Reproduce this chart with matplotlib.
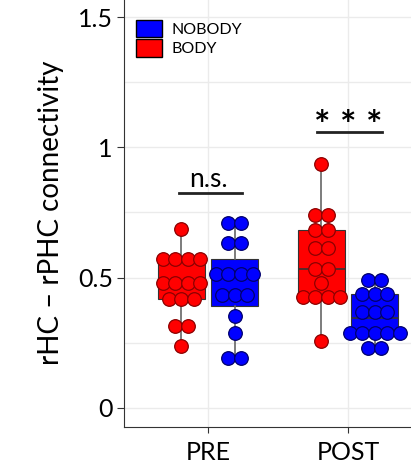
import numpy as np
import matplotlib
matplotlib.use('Agg')
import matplotlib.pyplot as plt
from matplotlib.patches import Patch

plt.rcParams['font.family'] = ['Lato', 'DejaVu Sans']

groups = ["PRE", "POST"]
conditions = ["BODY", "NOBODY"]
colors = {"BODY": "#FF0000", "NOBODY": "#0000FF"}
edges = {"BODY": "#8B0000", "NOBODY": "#00006B"}

pre_body = [0.688, 0.570, 0.570, 0.570, 0.570, 0.477, 0.477, 0.477, 0.477,
            0.419, 0.419, 0.419, 0.313, 0.313, 0.236]
pre_nobody = [0.710, 0.710, 0.631, 0.631, 0.512, 0.512, 0.512, 0.512,
              0.432, 0.432, 0.432, 0.351, 0.285, 0.191, 0.191]
post_body = [0.935, 0.740, 0.740, 0.682, 0.682, 0.614, 0.614, 0.531, 0.531,
             0.478, 0.425, 0.425, 0.425, 0.425, 0.255]
post_nobody = [0.490, 0.490, 0.438, 0.438, 0.438, 0.390, 0.368, 0.345,
               0.287, 0.287, 0.287, 0.287, 0.287, 0.230, 0.230]

data = {("PRE", "BODY"): pre_body, ("PRE", "NOBODY"): pre_nobody,
        ("POST", "BODY"): post_body, ("POST", "NOBODY"): post_nobody}

dodge = {"BODY": -0.19, "NOBODY": 0.19}
box_w = 0.34
binwidth = 0.05
dot_dx = 0.089


def dot_bins(vals, bw):
    # greedy dot-density binning, like ggplot's geom_dotplot
    v = sorted(vals)
    out = []
    i = 0
    while i < len(v):
        j = i
        while j < len(v) and v[j] < v[i] + bw:
            j += 1
        out.append(((v[i] + v[j - 1]) / 2, j - i))
        i = j
    return out


fig = plt.figure(figsize=(4.11, 4.65), dpi=100)
ax = fig.add_axes([124 / 411, 38 / 465, 308 / 411, 429 / 465])

for gi, g in enumerate(groups):
    for c in conditions:
        vals = data[(g, c)]
        x = gi + 1 + dodge[c]
        ax.boxplot([vals], positions=[x], widths=box_w, patch_artist=True,
                   showfliers=False, showcaps=False,
                   boxprops=dict(facecolor=colors[c], edgecolor="#333333", linewidth=0.8),
                   medianprops=dict(color="#333333", linewidth=1.2),
                   whiskerprops=dict(color="#666666", linewidth=1.2),
                   zorder=2)
        for center, n in dot_bins(vals, binwidth):
            xs = x + (np.arange(n) - (n - 1) / 2) * dot_dx
            ax.plot(xs, [center] * n, "o", ms=9.8, mfc=colors[c],
                    mec=edges[c], mew=0.9, zorder=3, clip_on=False)

# significance bars
ax.plot([0.79, 1.24], [0.826, 0.826], color="#222222", lw=2)
ax.text(1.0, 0.848, "n.s.", ha="center", va="baseline", fontsize=19)
ax.plot([1.78, 2.24], [1.058, 1.058], color="#222222", lw=2)
ax.text(2.0, 1.035, "* * *", ha="center", va="baseline", fontsize=28,
        fontweight="bold")

ax.set_xlim(0.4, 2.6)
ax.set_ylim(-0.075, 1.575)
ax.set_xticks([1, 2])
ax.set_xticklabels(groups)
ax.set_yticks([0, 0.5, 1, 1.5])
ax.set_yticklabels(["0", "0.5", "1", "1.5"])
ax.set_yticks([0.25, 0.75, 1.25], minor=True)
ax.tick_params(axis="y", labelsize=18, length=5, color="#333333", pad=3)
ax.tick_params(axis="x", labelsize=18, length=4, color="#333333", pad=6)
ax.tick_params(axis="y", which="minor", length=0)
ax.grid(True, which="both", color="#ebebeb", lw=1)
ax.set_axisbelow(True)
for s in ["top", "right"]:
    ax.spines[s].set_visible(False)
for s in ["left", "bottom"]:
    ax.spines[s].set_color("#333333")
ax.set_ylabel("rHC \u2013 rPHC connectivity", fontsize=20, labelpad=10)

handles = [Patch(facecolor=colors["NOBODY"], edgecolor="black"),
           Patch(facecolor=colors["BODY"], edgecolor="black")]
ax.legend(handles, ["NOBODY", "BODY"], loc="upper left", frameon=False,
          bbox_to_anchor=(136 / 411, 1 - 20 / 465), bbox_transform=fig.transFigure,
          borderpad=0, borderaxespad=0, fontsize=11.5, handlelength=1.65,
          handleheight=1.3, labelspacing=0.12, handletextpad=0.6)

plt.savefig("out.png", dpi=100)
